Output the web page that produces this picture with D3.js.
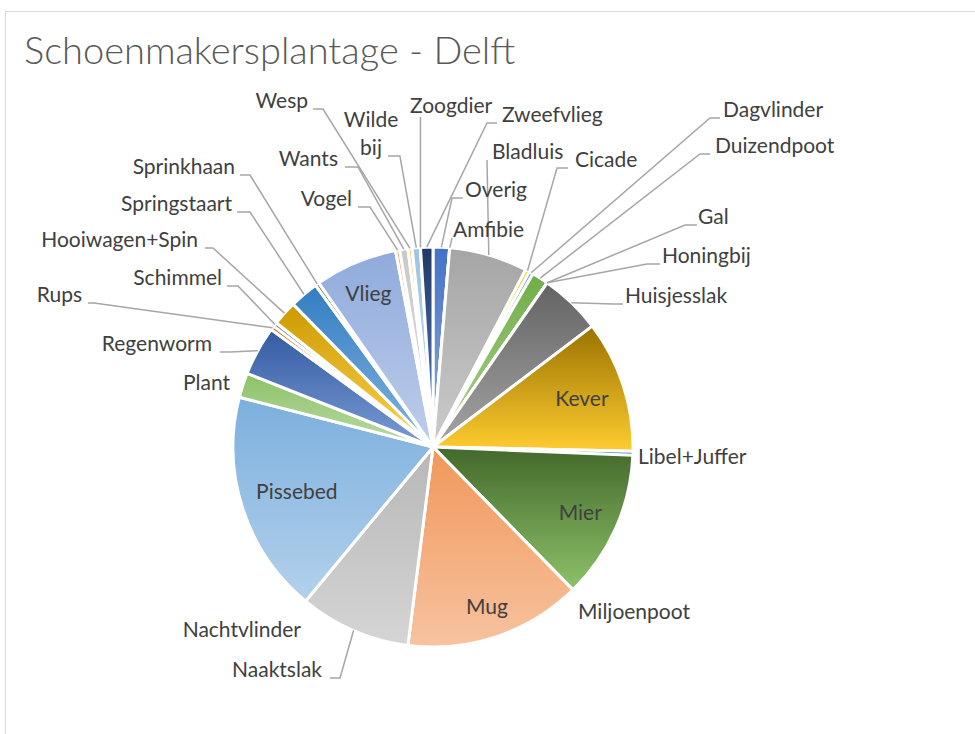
<!DOCTYPE html>
<html>
<meta charset="utf-8" />
<script src="https://d3js.org/d3.v7.min.js"></script>
<style>
  body { margin: 0; background: #fff; }
  text { font-family: Lato, "Open Sans", sans-serif; }
</style>
<body>
<svg id="chart" width="975" height="734"></svg>
<script>
// data, in the order the slices run clockwise from 12 o'clock
const categories = [
  "Overig", "Amfibie", "Bladluis", "Cicade", "Dagvlinder", "Duizendpoot",
  "Gal", "Honingbij", "Huisjesslak", "Kever", "Libel+Juffer", "Mier",
  "Miljoenpoot", "Mug", "Naaktslak", "Nachtvlinder", "Pissebed", "Plant",
  "Regenworm", "Rups", "Schimmel", "Hooiwagen+Spin", "Springstaart", "Sprinkhaan",
  "Vlieg", "Vogel", "Wants", "Wesp", "Wilde bij", "Zoogdier", "Zweefvlieg"
];
const counts = [
  4, 0, 19, 1, 1, 4,
  0, 0, 15, 32, 1, 36,
  0, 43, 27, 0, 54, 6,
  12, 1, 1, 6, 7, 1,
  20, 1, 2, 1, 2, 0, 3
];
const title = "Schoenmakersplantage - Delft";

// office theme colours and the lum variations excel cycles through
const baseColors = ["#4472C4", "#ED7D31", "#A5A5A5", "#FFC000", "#5B9BD5", "#70AD47"];
const lumVariants = [[1, 0], [0.6, 0], [0.8, 0.2], [0.8, 0], [0.6, 0.4], [0.5, 0]];

const insideLabels = ["Kever", "Mier", "Mug", "Pissebed", "Vlieg"];

// label placement (x = anchor, y = baseline); side R = text right of its leader
const labelPos = {
  "Overig":        { side: "R", x: 465, y: 197, gap: 2, stub: 11 },
  "Amfibie":       { side: "R", x: 453, y: 237, gap: 1, stub: 0 },
  "Zweefvlieg":    { side: "R", x: 502, y: 122, gap: 5, stub: 10 },
  "Bladluis":      { side: "R", x: 492, y: 159, gap: 5, stub: 0 },
  "Cicade":        { side: "R", x: 575, y: 167, gap: 7, stub: 11 },
  "Dagvlinder":    { side: "R", x: 723, y: 117, gap: 3, stub: 10 },
  "Duizendpoot":   { side: "R", x: 715, y: 153, gap: 5, stub: 10 },
  "Gal":           { side: "R", x: 698, y: 224, gap: 1, stub: 12 },
  "Honingbij":     { side: "R", x: 662, y: 263, gap: 2, stub: 13 },
  "Huisjesslak":   { side: "R", x: 625, y: 303, gap: 2, stub: 10 },
  "Libel+Juffer":  { side: "R", x: 638, y: 464, noLine: true },
  "Miljoenpoot":   { side: "R", x: 578, y: 619, noLine: true },
  "Nachtvlinder":  { side: "L", x: 301, y: 637, noLine: true },
  "Naaktslak":     { side: "L", x: 322, y: 677, gap: 8, stub: 10 },
  "Plant":         { side: "L", x: 230, y: 390, noLine: true },
  "Regenworm":     { side: "L", x: 212, y: 351, gap: 8, stub: 10 },
  "Rups":          { side: "L", x: 82,  y: 302, gap: 6, stub: 6 },
  "Schimmel":      { side: "L", x: 222, y: 285, gap: 5, stub: 11 },
  "Hooiwagen+Spin":{ side: "L", x: 198, y: 247, gap: 7, stub: 8 },
  "Springstaart":  { side: "L", x: 232, y: 211, gap: 5, stub: 13 },
  "Sprinkhaan":    { side: "L", x: 235, y: 174, gap: 5, stub: 10 },
  "Vogel":         { side: "L", x: 352, y: 206, gap: 6, stub: 12 },
  "Wants":         { side: "L", x: 338, y: 166, gap: 7, stub: 13 },
  "Wesp":          { side: "L", x: 308, y: 108, gap: 5, stub: 10 },
  "Wilde bij":     { side: "L", x: 371, y: 127, gap: 6, stub: 12, lines: ["Wilde", "bij"] },
  "Zoogdier":      { side: "R", x: 410, y: 113, below: true }
};

const cx = 433, cy = 447, radius = 200;
const fontSize = 21;

function sliceColor(i) {
  const c = d3.hsl(baseColors[i % 6]);
  const v = lumVariants[Math.floor(i / 6) % lumVariants.length];
  c.l = c.l * v[0] + v[1];
  return c;
}

const svg = d3.select("#chart");

// chart area border
svg.append("rect")
  .attr("x", 5.5).attr("y", 11.5)
  .attr("width", 1000).attr("height", 800)
  .attr("fill", "#fff")
  .attr("stroke", "#d9d9d9");

svg.append("text")
  .attr("x", 24).attr("y", 64)
  .attr("font-size", 38)
  .attr("font-weight", 300)
  .attr("fill", "#595959")
  .text(title);

const data = categories.map((name, i) => ({ name, value: counts[i], i }));

const defs = svg.append("defs");
data.forEach(d => {
  const c = sliceColor(d.i);
  const light = d3.hsl(c.h, c.s, c.l + (1 - c.l) * 0.42);
  const g = defs.append("linearGradient")
    .attr("id", "grad" + d.i)
    .attr("x1", 0).attr("y1", 0).attr("x2", 0).attr("y2", 1);
  g.append("stop").attr("offset", "0%").attr("stop-color", c.formatHex());
  g.append("stop").attr("offset", "100%").attr("stop-color", light.formatHex());
});

const pie = d3.pie().sort(null).value(d => d.value);
const arc = d3.arc().innerRadius(0).outerRadius(radius);
const arcs = pie(data);

const chart = svg.append("g").attr("transform", `translate(${cx},${cy})`);

chart.selectAll("path.slice")
  .data(arcs)
  .enter()
  .append("path")
  .attr("class", "slice")
  .attr("d", arc)
  .attr("fill", d => `url(#grad${d.data.i})`)
  .attr("stroke", "#fff")
  .attr("stroke-width", 3)
  .attr("stroke-linejoin", "round");

// labels inside the big slices: box pushed in until it sits inside the rim
const insideLabel = chart.selectAll("text.inside")
  .data(arcs.filter(d => insideLabels.includes(d.data.name)))
  .enter()
  .append("text")
  .attr("class", "inside")
  .attr("text-anchor", "middle")
  .attr("dy", "0.35em")
  .attr("font-size", fontSize)
  .attr("fill", "#404040")
  .text(d => d.data.name);

insideLabel.attr("transform", function (d) {
  const w = this.getComputedTextLength();
  const a = (d.startAngle + d.endAngle) / 2;
  const extent = (w / 2) * Math.abs(Math.sin(a)) + 10 * Math.abs(Math.cos(a));
  const r = 185 - extent;
  return `translate(${r * Math.sin(a)},${-r * Math.cos(a)})`;
});

// outside labels with leader lines (lines first, text on top)
const lineLayer = svg.append("g");
const textLayer = svg.append("g");
arcs.filter(d => labelPos[d.data.name]).forEach(d => {
  const p = labelPos[d.data.name];
  const t = textLayer.append("text")
    .attr("font-size", fontSize)
    .attr("fill", "#404040");
  let lastWidth = 0;
  if (p.lines) {
    t.attr("text-anchor", "middle");
    p.lines.forEach((line, k) => {
      const ts = t.append("tspan").attr("x", p.x).attr("y", p.y + k * 28).text(line);
      lastWidth = ts.node().getComputedTextLength();
    });
  } else {
    t.attr("x", p.x).attr("y", p.y)
      .attr("text-anchor", p.side === "R" ? "start" : "end")
      .text(d.data.name);
  }
  if (p.noLine) return;

  const a = (d.startAngle + d.endAngle) / 2;
  const rim = [cx + radius * Math.sin(a), cy - radius * Math.cos(a)];
  let pts;
  if (p.below) {
    pts = [rim, [rim[0], p.y + 4]];
  } else {
    const ly = p.y + 1;
    const bottomY = p.lines ? ly + (p.lines.length - 1) * 28 : ly;
    let ax;
    if (p.lines) ax = p.x + lastWidth / 2 + p.gap;
    else ax = p.side === "R" ? p.x - p.gap : p.x + p.gap;
    const kx = p.side === "R" ? ax - p.stub : ax + p.stub;
    pts = [rim, [kx, bottomY], [ax, bottomY]];
  }
  lineLayer.append("path")
    .attr("d", d3.line()(pts))
    .attr("fill", "none")
    .attr("stroke", "#a6a6a6")
    .attr("stroke-width", 1.5);
});
</script>
</body>
</html>
